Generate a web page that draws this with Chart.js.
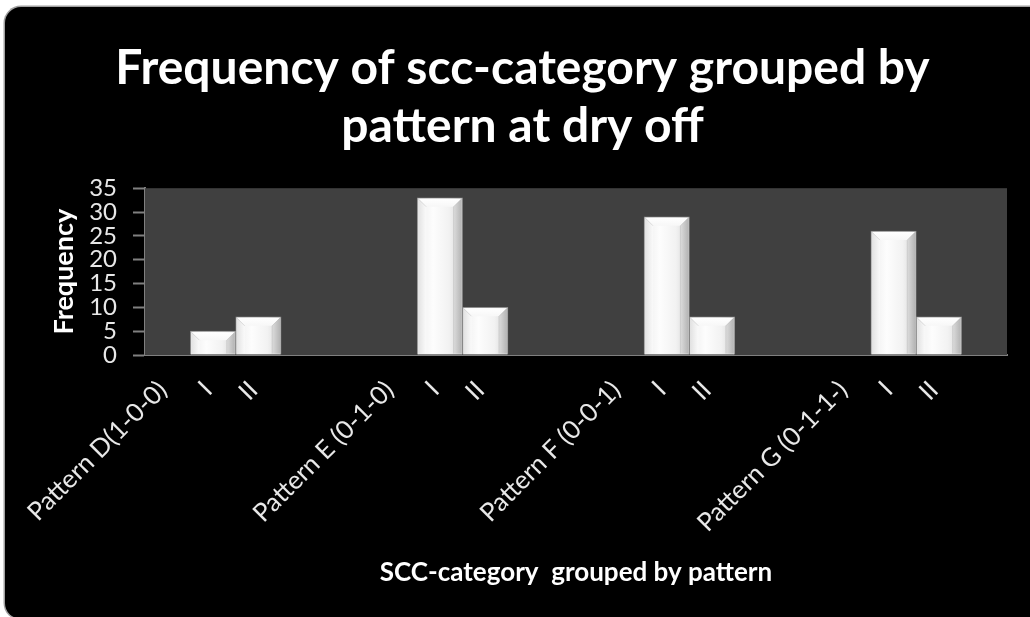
<!DOCTYPE html>
<html>
<head>
<meta charset="utf-8">
<script src="https://cdn.jsdelivr.net/npm/chart.js@4.4.1/dist/chart.umd.min.js"></script>
<style>
  html, body { margin: 0; padding: 0; background: #ffffff; width: 1030px; height: 617px; overflow: hidden; }
  #frame {
    position: absolute; left: 5px; top: 7px; width: 1045px; height: 612px;
    background: #000000; border-radius: 16px; box-shadow: 0 0 0 1.5px #a0a0a0;
  }
  #wrap { position: absolute; left: 0; top: 0; width: 1030px; height: 617px; }
</style>
</head>
<body>
<div id="frame"></div>
<div id="wrap"><canvas id="chart" width="1030" height="617"></canvas></div>
<script>
// Category axis: each pattern label is followed by its SCC categories I and II,
// with blank slots separating the pattern groups.
const categories = [
  'Pattern D(1-0-0)', 'I', 'II', '', '',
  'Pattern E (0-1-0)', 'I', 'II', '', '',
  'Pattern F (0-0-1)', 'I', 'II', '', '',
  'Pattern G (0-1-1-)', 'I', 'II', ''
];
// Frequency per category (null where no bar is drawn)
const frequency = [
  null, 5, 8, null, null,
  null, 33, 10, null, null,
  null, 29, 8, null, null,
  null, 26, 8, null
];
const yTicks = [0, 5, 10, 15, 20, 25, 30, 35];

const titleLines = ['Frequency of scc-category grouped by', 'pattern at dry off'];
const yTitle = 'Frequency';
const xTitle = 'SCC-category  grouped by pattern';

const FONT = 'Lato, "Open Sans", "DejaVu Sans", sans-serif';

// Dark plot area behind the bars
const plotBackground = {
  id: 'plotBackground',
  beforeDatasetsDraw(chart) {
    const { ctx, chartArea: a } = chart;
    ctx.save();
    ctx.fillStyle = '#404040';
    ctx.fillRect(a.left, a.top, a.right - a.left, a.bottom - a.top);
    ctx.restore();
  }
};

// Soft chamfered bevel shading laid over each bar's top and side edges
const bevel = {
  id: 'bevel',
  afterDatasetsDraw(chart) {
    const ctx = chart.ctx;
    chart.getDatasetMeta(0).data.forEach((bar, i) => {
      if (frequency[i] == null) return;
      const { x, y, base, width } = bar.getProps(['x', 'y', 'base', 'width'], true);
      const l = x - width / 2 + 1, r = x + width / 2 - 1, t = y + 1, b = base - 1;
      const k = Math.min(8, (b - t) / 2.2, width / 5);
      ctx.save();
      // top facet
      let g = ctx.createLinearGradient(0, t, 0, t + k);
      g.addColorStop(0, '#ffffff');
      g.addColorStop(1, '#f7f7f7');
      ctx.fillStyle = g;
      ctx.beginPath();
      ctx.moveTo(l, t); ctx.lineTo(r, t); ctx.lineTo(r - k, t + k); ctx.lineTo(l + k, t + k); ctx.closePath();
      ctx.fill();
      // left facet
      g = ctx.createLinearGradient(l, 0, l + k, 0);
      g.addColorStop(0, '#e2e2e2');
      g.addColorStop(1, '#fafafa');
      ctx.fillStyle = g;
      ctx.beginPath();
      ctx.moveTo(l, t); ctx.lineTo(l + k, t + k); ctx.lineTo(l + k, b); ctx.lineTo(l, b); ctx.closePath();
      ctx.fill();
      // right facet
      g = ctx.createLinearGradient(r - k, 0, r, 0);
      g.addColorStop(0, '#dcdcdc');
      g.addColorStop(1, '#b4b4b4');
      ctx.fillStyle = g;
      ctx.beginPath();
      ctx.moveTo(r, t); ctx.lineTo(r - k, t + k); ctx.lineTo(r - k, b); ctx.lineTo(r, b); ctx.closePath();
      ctx.fill();
      // faint facet creases
      ctx.strokeStyle = 'rgba(170,170,170,0.35)';
      ctx.lineWidth = 1;
      ctx.beginPath();
      ctx.moveTo(l, t); ctx.lineTo(l + k, t + k);
      ctx.moveTo(r, t); ctx.lineTo(r - k, t + k);
      ctx.moveTo(r - k, t + k); ctx.lineTo(r - k, b);
      ctx.stroke();
      ctx.restore();
    });
  }
};

function faceColor(context) {
  const chart = context.chart;
  const xs = chart.scales.x;
  if (!chart.chartArea || !xs) return '#f2f2f2';
  const cx = xs.getPixelForValue(context.dataIndex);
  const half = (chart.chartArea.right - chart.chartArea.left) / categories.length / 2;
  const g = chart.ctx.createLinearGradient(cx - half, 0, cx + half, 0);
  g.addColorStop(0, '#ececec');
  g.addColorStop(0.35, '#fdfdfd');
  g.addColorStop(0.7, '#f2f2f2');
  g.addColorStop(1, '#d4d4d4');
  return g;
}

new Chart(document.getElementById('chart'), {
  type: 'bar',
  data: {
    labels: categories,
    datasets: [{
      data: frequency,
      backgroundColor: faceColor,
      borderColor: '#8f8f8f',
      borderWidth: 1,
      barPercentage: 1,
      categoryPercentage: 1
    }]
  },
  plugins: [plotBackground, bevel],
  options: {
    responsive: false,
    animation: false,
    devicePixelRatio: 1,
    layout: { padding: { left: 38, right: 23, top: 0, bottom: 0 } },
    plugins: {
      legend: { display: false },
      tooltip: { enabled: false },
      title: {
        display: true,
        text: titleLines,
        color: '#ffffff',
        font: { family: FONT, size: 48, weight: 'bold', lineHeight: 1.2 },
        padding: { top: 40, bottom: 33 }
      }
    },
    scales: {
      x: {
        afterFit(scale) { scale.height = 262; },
        grid: { display: false },
        border: { display: true, color: '#808080', width: 2 },
        ticks: {
          autoSkip: false,
          minRotation: 45,
          maxRotation: 45,
          padding: 12,
          labelOffset: -5,
          color: '#e8e8e8',
          font: { family: FONT, size: 25.5 }
        },
        title: {
          display: true,
          text: xTitle,
          color: '#ffffff',
          font: { family: FONT, size: 26, weight: 'bold', lineHeight: 1.2 },
          padding: { top: 4, bottom: 29 }
        }
      },
      y: {
        min: 0,
        max: 35,
        afterFit(scale) { scale.width = 107; },
        afterBuildTicks(scale) { scale.ticks = yTicks.map(v => ({ value: v })); },
        grid: {
          display: true,
          drawOnChartArea: false,
          drawTicks: true,
          tickLength: 12,
          tickWidth: 2,
          tickColor: '#808080'
        },
        border: { display: true, color: '#808080', width: 2 },
        ticks: {
          autoSkip: false,
          padding: 16,
          color: '#e8e8e8',
          font: { family: FONT, size: 24 }
        },
        title: {
          display: true,
          text: yTitle,
          color: '#ffffff',
          font: { family: FONT, size: 27, weight: 'bold', lineHeight: 1.2 },
          padding: { top: 10, bottom: 0 }
        }
      }
    }
  }
});
</script>
</body>
</html>
